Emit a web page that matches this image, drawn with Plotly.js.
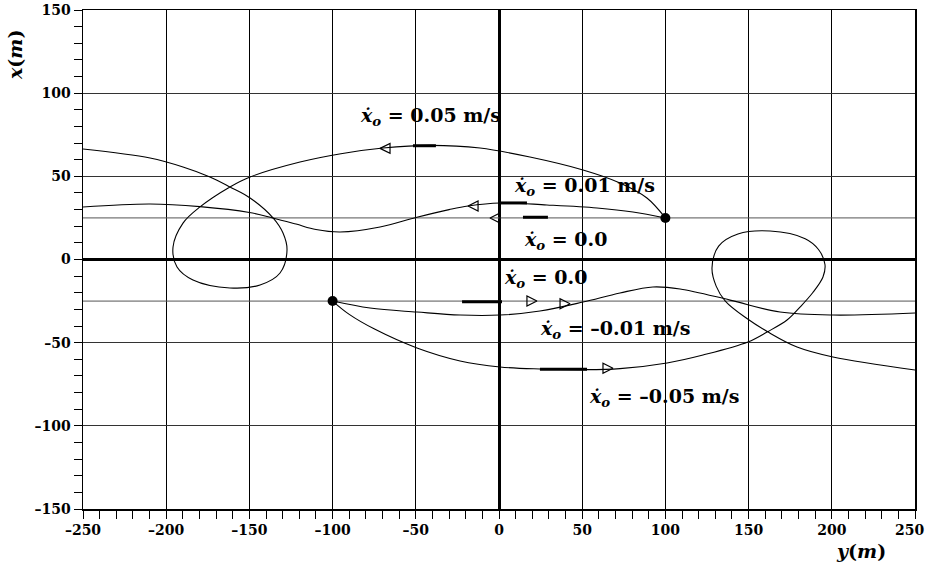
<!DOCTYPE html>
<html>
<head>
<meta charset="utf-8">
<script src="https://cdn.plot.ly/plotly-3.0.1.min.js"></script>
<style>html,body{margin:0;padding:0;background:#fff;}#chart{width:927px;height:567px;}</style>
</head>
<body>
<div id="chart"></div>
<script>
// Trajectory x0dot = 0.05 m/s (y in m, x in m)
var trajA_y = [100, 88.9, 72.7, 50.5, 18.6, -11.4, -41.5, -69.7, -95, -119.6, -149.6, -161.7, -179.7, -189.9, -195.9, -193.5, -183.9, -161.7, -143.6, -131.6, -127.4, -129.8, -135.8, -149.6, -161.7, -173.7, -189.9, -209.7, -250];
var trajA_x = [25, 37, 46, 53.8, 61.6, 67, 68.6, 67, 63.6, 58.6, 49.6, 43.6, 31.6, 21.9, 7.5, -4.5, -12.3, -17.1, -15.3, -8.1, 5.7, 15.9, 25, 37, 43.6, 49.6, 55.6, 61, 66.4];
// Trajectory x0dot = -0.05 m/s
var trajB_y = [-100, -90, -74.5, -49.3, -23.4, 0.6, 24.6, 50, 72.7, 101, 122.6, 149.6, 161.1, 173.1, 180.9, 188.5, 194.7, 195.9, 192, 184, 162.9, 143.6, 132, 128, 130.5, 136, 149, 161.7, 179.1, 200.7, 250];
var trajB_x = [-25, -33, -42, -53.2, -61, -64.6, -65.8, -66.2, -65.6, -62.2, -57.4, -49.6, -43.6, -36.4, -28.6, -20, -10.5, -3, 6, 12.5, 17.1, 15.3, 8, -5.1, -16, -25, -35.5, -43.6, -52.6, -58.6, -66.4];
// Trajectory x0dot = 0.01 m/s
var trajC_y = [100, 80.5, 58.9, 28.8, 0.6, -18.6, -30, -49.3, -71.5, -95.5, -110, -122, -136, -150, -179.7, -209.7, -250];
var trajC_x = [25, 28.6, 31, 32.8, 34, 32.2, 30, 25.4, 19.5, 16.5, 18.0, 21.3, 25, 28.3, 31.8, 33.4, 31.6];
// Trajectory x0dot = -0.01 m/s
var trajD_y = [-100, -77.5, -49.3, -23.4, 0.6, 24.6, 50.5, 72.7, 92.5, 108.8, 138.8, 168.9, 200.7, 250];
var trajD_x = [-25, -29.2, -31.6, -33.4, -33.4, -31, -25.6, -20.1, -16.5, -17.7, -24.4, -31.6, -33.4, -32.2];
// Trajectories x0dot = 0.0 (straight lines)
var trajE_y = [-250, 250];
var trajE_x = [25, 25];
var trajF_y = [-250, 250];
var trajF_x = [-25, -25];
// Start points
var start_y = [100, -100];
var start_x = [25, -25];
// Direction arrows (tips) and the short bold segments behind them
var arrowL_y = [-71.5, -18.6, -5.4];
var arrowL_x = [66.8, 32.2, 25];
var arrowR_y = [22.8, 42.7, 68.5];
var arrowR_x = [-25, -26.6, -65.4];
var bars = [
  {y: [-51.7, -37.9], x: [68.4, 68.4]},
  {y: [0.6, 16.8], x: [34.0, 34.0]},
  {y: [14.4, 29.4], x: [25.4, 25.4]},
  {y: [-22.2, 1.8], x: [-25.4, -25.4]},
  {y: [24.6, 52.9], x: [-66.0, -66.0]}
];
// Ticks
var tickVals = [-250, -200, -150, -100, -50, 0, 50, 100, 150, 200, 250];
var tickText = ['–250', '–200', '–150', '–100', '–50', '0', '50', '100', '150', '200', '250'];
var yTickVals = [-150, -100, -50, 0, 50, 100, 150];
var yTickText = ['–150', '–100', '–50', '0', '50', '100', '150'];
// Labels
var labelText = ['0.05 m/s', '0.01 m/s', '0.0', '0.0', '–0.01 m/s', '–0.05 m/s'];

var serif = 'DejaVu Serif';
var thin = {color: '#000', width: 1.1};
var traces = [
  {x: trajE_y, y: trajE_x, mode: 'lines', line: {color: '#555', width: 1}},
  {x: trajF_y, y: trajF_x, mode: 'lines', line: {color: '#555', width: 1}},
  {x: trajA_y, y: trajA_x, mode: 'lines', line: Object.assign({shape: 'spline', smoothing: 1}, thin)},
  {x: trajB_y, y: trajB_x, mode: 'lines', line: Object.assign({shape: 'spline', smoothing: 1}, thin)},
  {x: trajC_y, y: trajC_x, mode: 'lines', line: Object.assign({shape: 'spline', smoothing: 1}, thin)},
  {x: trajD_y, y: trajD_x, mode: 'lines', line: Object.assign({shape: 'spline', smoothing: 1}, thin)}
];
bars.forEach(function (b) {
  traces.push({x: b.y, y: b.x, mode: 'lines', line: {color: '#000', width: 3}});
});
traces.push({x: arrowL_y, y: arrowL_x, mode: 'markers',
  marker: {symbol: 'arrow-left-open', size: 10, color: '#000', line: {color: '#000', width: 1.2}}});
traces.push({x: arrowR_y, y: arrowR_x, mode: 'markers',
  marker: {symbol: 'arrow-right-open', size: 10, color: '#000', line: {color: '#000', width: 1.2}}});
traces.push({x: start_y, y: start_x, mode: 'markers', marker: {symbol: 'circle', size: 10, color: '#000'}});

var labelPos = [[-85, 85.7], [7.8, 43.6], [13.8, 11.7], [1.8, -11.7], [23.4, -41.8], [52.9, -82.7]];
var annotations = labelPos.map(function (p, i) {
  return {x: p[0], y: p[1], xref: 'x', yref: 'y', xanchor: 'left', yanchor: 'middle', showarrow: false,
    text: '<b><i>ẋ</i><sub><i>o</i></sub> = ' + labelText[i] + '</b>',
    font: {family: serif, size: 19, color: '#000'}};
});
annotations.push({x: 15, y: 55, xref: 'paper', yref: 'paper', xanchor: 'center', yanchor: 'middle',
  showarrow: false, textangle: -90, text: '<b><i>x</i>(<i>m</i>)</b>', font: {family: serif, size: 19, color: '#000'}});
annotations.push({x: 861, y: 551, xref: 'paper', yref: 'paper', xanchor: 'center', yanchor: 'middle',
  showarrow: false, text: '<b><i>y</i>(<i>m</i>)</b>', font: {family: serif, size: 19, color: '#000'}});
// last x tick label is placed so it stays inside the picture edge
var lastTick = tickText[tickText.length - 1];
annotations.push({x: 926, y: 530, xref: 'paper', yref: 'paper', xanchor: 'right', yanchor: 'middle',
  showarrow: false, text: lastTick, font: {family: serif, size: 14, color: '#000', weight: 'bold'}});
annotations.forEach(function (a) {
  if (a.xref === 'paper') {
    a.x = (a.x - 83) / 832;
    a.y = (509 - a.y) / 499;
  }
});
var shownTickText = tickText.slice(0, tickText.length - 1).concat(['']);

var layout = {
  width: 927, height: 567,
  margin: {l: 83, r: 12, t: 10, b: 58},
  paper_bgcolor: '#fff', plot_bgcolor: '#fff',
  showlegend: false,
  font: {family: serif},
  xaxis: {
    range: [-250, 250], tickvals: tickVals, ticktext: shownTickText,
    ticks: 'outside', ticklen: 8, tickcolor: '#000', tickwidth: 1,
    minor: {dtick: 10, ticks: 'outside', ticklen: 8, tickcolor: '#000', showgrid: false},
    showgrid: true, gridcolor: '#000', gridwidth: 1.3,
    zeroline: true, zerolinecolor: '#000', zerolinewidth: 3,
    showline: true, linecolor: '#000', linewidth: 1.5, mirror: true,
    tickfont: {family: serif, size: 14, color: '#000', weight: 'bold'}
  },
  yaxis: {
    range: [-150, 150], tickvals: yTickVals, ticktext: yTickText,
    ticks: 'outside', ticklen: 8, tickcolor: '#000', tickwidth: 1,
    minor: {dtick: 10, ticks: 'outside', ticklen: 8, tickcolor: '#000', showgrid: false},
    showgrid: true, gridcolor: '#333', gridwidth: 1.1,
    zeroline: true, zerolinecolor: '#000', zerolinewidth: 3,
    showline: true, linecolor: '#000', linewidth: 1.5, mirror: true,
    tickfont: {family: serif, size: 14, color: '#000', weight: 'bold'}
  },
  annotations: annotations
};
Plotly.newPlot('chart', traces, layout, {displayModeBar: false, staticPlot: true});
</script>
</body>
</html>
